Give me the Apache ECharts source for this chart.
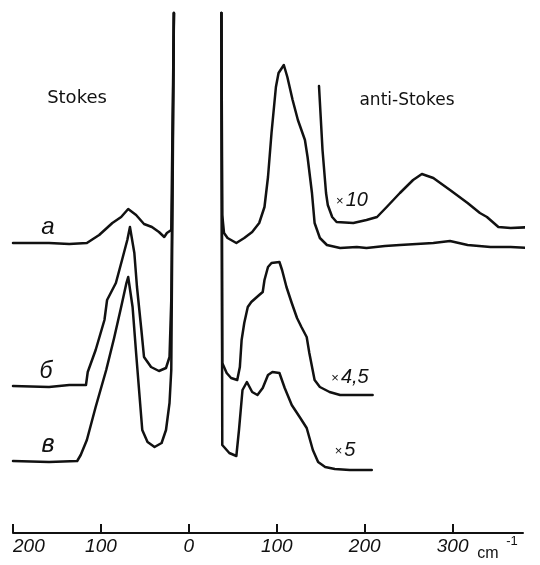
<!DOCTYPE html>
<html>
<head>
<meta charset="utf-8">
<script src="https://cdn.jsdelivr.net/npm/echarts@6/dist/echarts.min.js"></script>
<style>
html,body{margin:0;padding:0;background:#fff;}
#c{width:540px;height:565px;}
</style>
</head>
<body>
<div id="c"></div>
<script>
// Raman shift (cm^-1, Stokes negative) and intensity (arbitrary, with vertical offsets)
const tickValues = [-200, -100, 0, 100, 200, 300];
const tickLabels = ['200', '100', '0', '100', '200', '300'];

const traceA_stokes = [[-200,290],[-159,290],[-136,289],[-116,290],[-102,298],[-87,310],[-77,316],[-69,324],[-60,318],[-51,309],[-42,306],[-34,301],[-28,296],[-25,300],[-20,303],[-17,520]];
const traceB_stokes = [[-200,147],[-159,146],[-136,148],[-117,148],[-115,161],[-106,183],[-96,213],[-93,233],[-83,250],[-76,273],[-70,293],[-67,306],[-62,280],[-59,246],[-54,203],[-51,176],[-43,166],[-34,162],[-26,165],[-22,176],[-20,233],[-17,520]];
const traceV_stokes = [[-200,72],[-159,71],[-127,72],[-123,78],[-116,93],[-106,126],[-94,163],[-85,195],[-77,226],[-71,250],[-69,256],[-64,226],[-60,180],[-56,136],[-53,103],[-47,91],[-39,86],[-31,90],[-26,103],[-22,130],[-20,163],[-17,520]];

const traceA_anti = [[37,520],[38,318],[40,300],[44,295],[54,290],[63,295],[72,301],[80,310],[86,326],[90,356],[94,400],[99,446],[102,460],[108,468],[112,456],[118,433],[124,413],[132,393],[135,376],[140,340],[143,310],[149,295],[157,288],[172,285],[191,286],[202,285],[223,287],[240,288],[278,290],[297,292],[317,288],[343,286],[366,286],[388,285]];
const traceA_x10 = [[148,447],[152,383],[156,340],[158,328],[163,316],[168,311],[187,310],[202,313],[214,316],[225,326],[240,340],[255,353],[265,359],[278,355],[297,343],[317,330],[331,320],[339,316],[352,306],[366,305],[392,306]];
const traceB_anti = [[37,520],[38,170],[43,160],[48,155],[55,153],[58,166],[60,193],[63,210],[67,226],[71,231],[80,238],[84,241],[86,253],[90,266],[94,270],[103,271],[106,263],[111,246],[117,230],[123,215],[128,206],[134,196],[137,180],[143,153],[149,146],[160,141],[172,138],[191,138],[209,138]];
const traceV_anti = [[37,520],[38,88],[46,80],[54,77],[57,103],[60,133],[61,143],[66,151],[72,141],[78,138],[84,145],[90,158],[95,161],[103,160],[109,145],[117,128],[126,116],[134,105],[141,83],[147,71],[155,66],[166,64],[183,63],[208,63]];

const traces = [traceA_stokes, traceB_stokes, traceV_stokes, traceA_anti, traceA_x10, traceB_anti, traceV_anti];

const ink = '#111';
const chart = echarts.init(document.getElementById('c'), null, {renderer: 'canvas'});

const series = traces.map(d => ({
  type: 'line',
  data: d,
  showSymbol: false,
  symbol: 'none',
  clip: false,
  silent: true,
  lineStyle: {color: ink, width: 2.5, join: 'round', cap: 'round'}
}));

function txt(text, x, y, font, size, italic) {
  return {
    type: 'text', x: x, y: y, silent: true,
    style: {
      text: text, fill: ink, fontFamily: font, fontSize: size,
      fontStyle: italic ? 'italic' : 'normal',
      align: 'center', verticalAlign: 'middle'
    }
  };
}

const multRich = {
  s: {fontSize: 13, fontFamily: 'Liberation Sans', fontStyle: 'normal', fill: ink, padding: [2, 2, 0, 0]},
  n: {fontSize: 20, fontFamily: 'Liberation Sans', fontStyle: 'italic', fill: ink}
};
function mult(num, x, y) {
  return {
    type: 'text', x: x, y: y, silent: true,
    style: {text: '{s|×}{n|' + num + '}', rich: multRich, align: 'center', verticalAlign: 'middle', fill: ink}
  };
}

chart.setOption({
  animation: false,
  backgroundColor: '#fff',
  grid: {left: 13, right: 17, top: 12, bottom: 32, containLabel: false},
  xAxis: {
    type: 'value', min: -200, max: 380, interval: 100,
    splitLine: {show: false},
    axisLine: {show: true, lineStyle: {color: ink, width: 2}},
    axisTick: {show: true, inside: true, length: 9, lineStyle: {color: ink, width: 2}, customValues: tickValues},
    axisLabel: {
      show: true, customValues: tickValues, margin: 4, alignMinLabel: 'left',
      color: ink, fontSize: 19, fontStyle: 'italic', fontFamily: 'Liberation Sans, sans-serif',
      formatter: v => tickLabels[tickValues.indexOf(v)] || ''
    }
  },
  yAxis: {type: 'value', min: 0, max: 521, show: false, splitLine: {show: false}},
  series: series,
  graphic: [
    txt('Stokes', 77, 98, 'DejaVu Sans', 18, false),
    txt('anti-Stokes', 407, 101, 'DejaVu Sans', 17, false),
    txt('а', 48, 227, 'Liberation Sans', 24, true),
    txt('б', 46, 372, 'Liberation Sans', 23, true),
    txt('в', 48, 445, 'Liberation Sans', 25, true),
    mult('10', 352, 200),
    mult('4,5', 350, 377),
    mult('5', 345, 450),
    txt('cm', 488, 554, 'Liberation Sans', 16, false),
    txt('-1', 512, 541, 'Liberation Sans', 13, false)
  ]
});
</script>
</body>
</html>
